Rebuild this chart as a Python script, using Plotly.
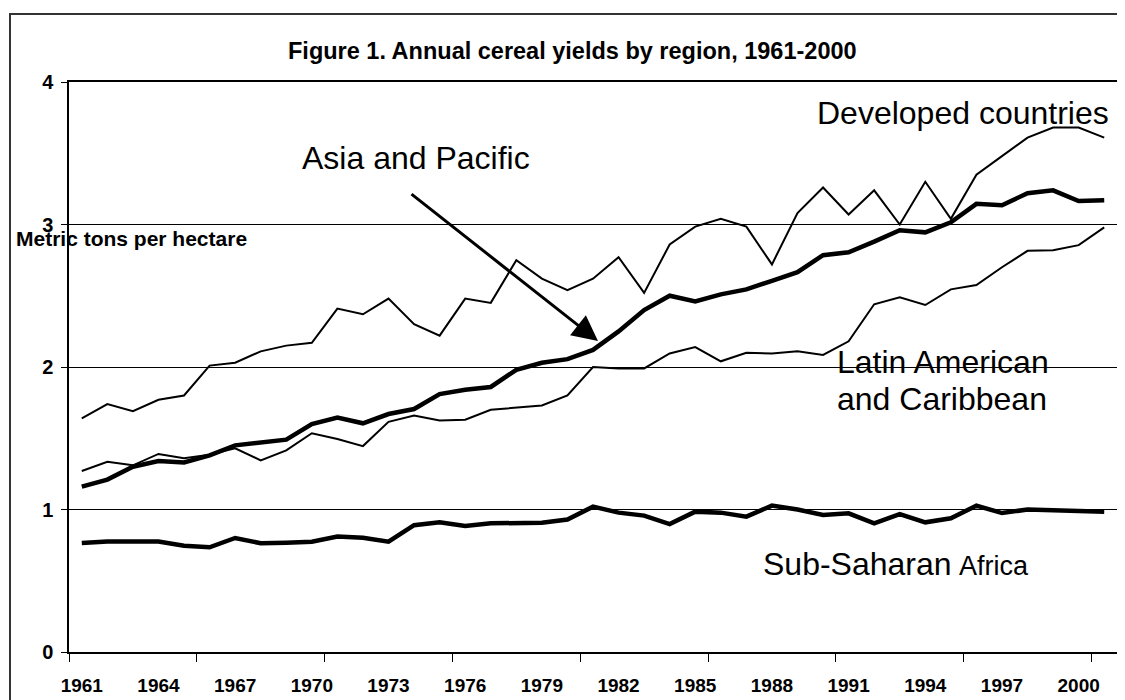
import plotly.graph_objects as go

# ---------------- data ----------------
years = list(range(1961, 2002))

developed = [1.64, 1.74, 1.69, 1.77, 1.80, 2.01, 2.03, 2.11, 2.15, 2.17,
             2.41, 2.37, 2.48, 2.30, 2.22, 2.48, 2.45, 2.75, 2.62, 2.54,
             2.62, 2.77, 2.52, 2.86, 2.985, 3.04, 2.985, 2.72, 3.08, 3.26,
             3.07, 3.24, 3.00, 3.30, 3.04, 3.35, 3.48, 3.61, 3.68, 3.68, 3.61]

asia_pacific = [1.16, 1.21, 1.30, 1.34, 1.33, 1.38, 1.45, 1.47, 1.49, 1.60,
                1.645, 1.605, 1.67, 1.705, 1.81, 1.84, 1.86, 1.98, 2.03, 2.055,
                2.12, 2.25, 2.40, 2.50, 2.46, 2.51, 2.545, 2.605, 2.665, 2.785,
                2.805, 2.88, 2.96, 2.945, 3.015, 3.145, 3.135, 3.22, 3.24, 3.165, 3.17]

latin_america = [1.27, 1.335, 1.31, 1.39, 1.36, 1.385, 1.43, 1.345, 1.415, 1.535,
                 1.495, 1.445, 1.615, 1.66, 1.625, 1.63, 1.70, 1.715, 1.73, 1.80,
                 2.00, 1.99, 1.99, 2.095, 2.14, 2.04, 2.10, 2.095, 2.11, 2.085,
                 2.18, 2.44, 2.49, 2.435, 2.545, 2.575, 2.70, 2.815, 2.82, 2.855, 2.98]

sub_saharan = [0.765, 0.775, 0.775, 0.775, 0.745, 0.735, 0.80, 0.763, 0.767, 0.774,
               0.81, 0.802, 0.774, 0.89, 0.91, 0.884, 0.903, 0.903, 0.907, 0.93,
               1.02, 0.978, 0.957, 0.898, 0.985, 0.978, 0.95, 1.027, 1.00, 0.961,
               0.973, 0.903, 0.968, 0.91, 0.938, 1.027, 0.975, 1.00, 0.995, 0.985, 0.985]

x_tick_years = years[0:40:3]
x_tick_labels = [str(y) for y in x_tick_years]
y_tick_vals = [0, 1, 2, 3, 4]
y_tick_labels = ["0", "1", "2", "3", "4"]

title_text = "Figure 1. Annual cereal yields by region, 1961-2000"
y_title_text = "Metric tons per hectare"

# ---------------- layout helpers ----------------
PAGE_OFF = 8                     # default body margin of the html page
W, H = 1125 - PAGE_OFF, 700 - PAGE_OFF
L, R, T, B = 69, 1117, 82, 652   # plot area in page pixels
FONT = "Liberation Sans, Arial, sans-serif"


def px(X):
    return (X - L) / (R - L)


def py(Y):
    return (B - Y) / (B - T)


fig = go.Figure()

series = [
    ("Developed countries", developed, 2),
    ("Asia and Pacific", asia_pacific, 4.5),
    ("Latin American and Caribbean", latin_america, 2),
    ("Sub-Saharan Africa", sub_saharan, 4.5),
]
for name, vals, w in series:
    fig.add_trace(go.Scatter(x=years, y=vals, mode="lines", name=name,
                             line=dict(color="black", width=w),
                             hoverinfo="skip"))

minor_ticks = [years[0] - 0.5 + 5 * k for k in range(9)]

fig.update_layout(
    width=W, height=H,
    margin=dict(l=L - PAGE_OFF, r=1125 - R, t=T - PAGE_OFF, b=700 - B, pad=0,
                autoexpand=False),
    paper_bgcolor="white", plot_bgcolor="white",
    showlegend=False,
    font=dict(family=FONT, color="black"),
    xaxis=dict(
        range=[years[0] - 0.5, years[-1] + 0.5], automargin=False,
        tickmode="array", tickvals=x_tick_years, ticktext=x_tick_labels,
        ticks="", showgrid=False, zeroline=False,
        showline=True, linecolor="black", linewidth=1.5, mirror=True,
        tickfont=dict(family=FONT, size=19, weight="bold", color="black"),
        ticklabelstandoff=15,
        minor=dict(tickmode="array", tickvals=minor_ticks, ticks="outside",
                   ticklen=8, tickcolor="black", tickwidth=1, showgrid=False),
    ),
    yaxis=dict(
        range=[0, 4], automargin=False,
        tickmode="array", tickvals=y_tick_vals, ticktext=y_tick_labels,
        ticks="outside", ticklen=6, tickcolor="black", tickwidth=1,
        showgrid=True, gridcolor="black", gridwidth=1, zeroline=False,
        showline=True, linecolor="black", linewidth=1.5, mirror=True,
        tickfont=dict(family=FONT, size=20, weight="bold", color="black"),
        ticklabelstandoff=4,
    ),
)

ann = []
# title
ann.append(dict(text=title_text, x=px(572), y=py(51), xref="paper", yref="paper",
                xanchor="center", yanchor="middle", showarrow=False,
                font=dict(family=FONT, size=23.5, weight="bold", color="black")))
# y axis title (horizontal, under the 3 gridline)
ann.append(dict(text=y_title_text, x=px(14), y=py(239), xref="paper", yref="paper",
                xanchor="left", yanchor="middle", showarrow=False,
                font=dict(family=FONT, size=21, weight="bold", color="black")))
# series labels
lab_font = dict(family=FONT, size=32, color="black")
ann.append(dict(text="Developed countries", x=px(1111), y=py(113), xref="paper", yref="paper",
                xanchor="right", yanchor="middle", showarrow=False, font=lab_font))
ann.append(dict(text="Asia and Pacific", x=px(300), y=py(158), xref="paper", yref="paper",
                xanchor="left", yanchor="middle", showarrow=False, font=lab_font))
ann.append(dict(text="Latin American", x=px(835), y=py(362), xref="paper", yref="paper",
                xanchor="left", yanchor="middle", showarrow=False, font=lab_font))
ann.append(dict(text="and Caribbean", x=px(835), y=py(399), xref="paper", yref="paper",
                xanchor="left", yanchor="middle", showarrow=False, font=lab_font))
ann.append(dict(text="Sub-Saharan", x=px(761), y=py(564), xref="paper", yref="paper",
                xanchor="left", yanchor="middle", showarrow=False, font=lab_font))
ann.append(dict(text="Africa", x=px(957), y=py(566), xref="paper", yref="paper",
                xanchor="left", yanchor="middle", showarrow=False,
                font=dict(family=FONT, size=27, color="black")))
# arrow pointing to Asia and Pacific line
ann.append(dict(text="", x=px(598), y=py(341), xref="paper", yref="paper",
                ax=410 - 598, ay=193 - 341, axref="pixel", ayref="pixel",
                showarrow=True, arrowhead=2, arrowsize=1.7, arrowwidth=3,
                arrowcolor="black", standoff=0))
fig.update_layout(annotations=ann)

# outer chart frame (right and bottom sides fall outside the picture)
fig.add_shape(type="rect", xref="paper", yref="paper",
              x0=px(10), x1=px(1160), y0=py(730), y1=py(14),
              line=dict(color="#333333", width=2), fillcolor="rgba(0,0,0,0)",
              layer="above")

fig.write_html("out.html")
